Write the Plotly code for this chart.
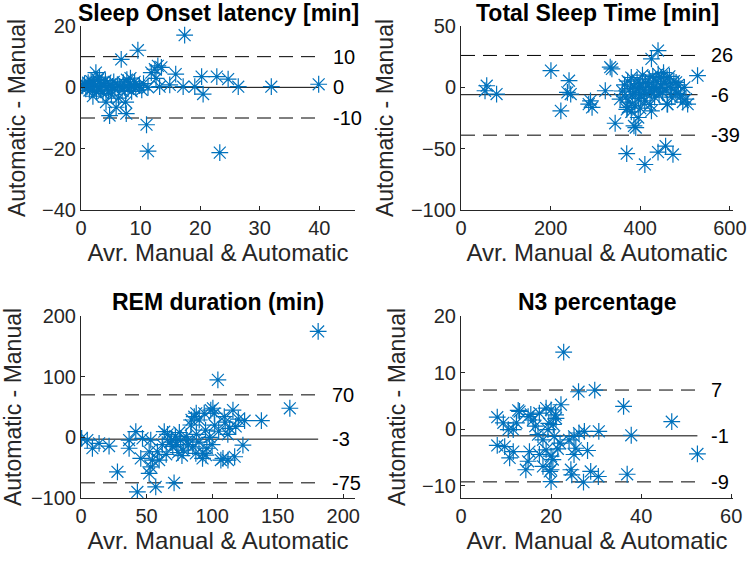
import plotly.graph_objects as go

# ---------------- data ----------------
sol_x = [0.3, 0.6, 0.8, 1.0, 1.2, 1.4, 1.5, 1.7, 1.9, 2.0, 2.1, 2.3, 2.5, 2.6, 2.8, 3.0, 3.1, 3.3, 3.5, 3.7,
         3.9, 4.1, 4.2, 4.4, 4.6, 4.8, 4.9, 5.1, 5.3, 5.5, 5.7, 5.9, 6.1, 6.3, 6.5, 6.75, 6.9, 7.1, 7.3, 7.5,
         7.6, 7.7, 7.9, 8.1, 8.3, 8.5, 8.8, 9.0, 9.2, 9.55, 9.8, 10.2, 10.5, 11.0, 11.25, 11.25, 11.8, 12.4, 12.6, 12.9,
         13.2, 13.5, 14.9, 15.9, 17.15, 17.4, 19.1, 20.25, 20.5, 22.8, 23.3, 24.7, 26.4, 31.95, 39.9]
sol_y = [0.5, 1.2, -0.5, 0.2, 1.5, -1.0, 0.8, 2.0, -0.3, -2.9, 1.0, 0.4, 4.8, -1.5, 2.5, 0.0, 3.3, -0.8, 1.3, -2.0,
         0.6, 2.2, -4.8, 0.0, -1.2, -9.2, 1.0, -2.5, 0.3, 1.8, -0.6, -6.5, 0.8, -3.5, 0.2, 9.1, -1.0, 1.5, 0.0, -4.8,
         -8.6, 2.5, -0.5, 0.9, 3.0, -1.3, 0.4, 1.8, -0.2, 12.1, 0.6, -0.8, 1.2, -12.2, -20.8, 0.0, 4.8, 5.9, 2.9, 7.0,
         0.2, 6.5, 0.8, 4.3, 0.2, 17.0, 0.2, 3.5, -2.2, 3.5, -21.3, 2.7, 0.2, 0.2, 1.0]
sol_stats = [0, 10, -10]          # mean, upper LoA, lower LoA
sol_labels = ["0", "10", "-10"]

tst_x = [57.4, 53.6, 79.4, 200.7, 222.8, 241.1, 237.4, 244.8, 289, 292.5, 285, 322, 333, 336.7, 344, 355, 369.8, 372,
         386, 395.5, 410.3, 425, 425, 439.7, 439.7, 456.6, 473, 460, 527.9, 505.8, 502, 498.5, 480, 482, 390, 461,
         360, 365, 368, 372, 375, 378, 380, 383, 386, 388, 390, 393, 396, 398, 400, 402, 405, 408, 410, 412, 415, 418,
         420, 422, 425, 428, 430, 432, 435, 437, 440, 442, 445, 447, 450, 452, 455, 458, 460, 465, 468, 470, 475, 478,
         485, 490, 495, 370, 380, 400]
tst_y = [1.3, -2.8, -5.5, 13.6, -19.2, 5.4, -4.1, -5.5, -11, -16.4, -13.7, -2.8, 16.4, 15, -29.3, -9.6, -54.1, -16.4,
         -31.5, -24.6, -62.9, -19.2, 23.2, 30, -52.8, -47.9, -54.7, -13.7, 9.5, -13.7, -9.6, 0, 4.1, -5, -32.8, -13.7,
         -3, 2, -8, 5, -12, -1, 8, -6, 1, -15, -4, 6, -9, 0, 3, -7, 10, -2, -11, 4, -5, 1,
         7, -14, -3, 9, 0, -8, 5, -1, 11, -6, 2, 8, -4, 12, 3, -2, 7, 9, 0, -8, 5, -3,
         2, -7, -12, -18, -20, -17]
tst_stats = [-6, 26, -39]
tst_labels = ["-6", "26", "-39"]

rem_x = [0.5, 4.8, 8.7, 13.8, 21.4, 27.8, 36.7, 36.7, 41.8, 46.9, 45.6, 53.2, 52, 54.5, 53.2, 52, 57, 43, 71, 58.3,
         59.6, 63.5, 66, 68, 70, 72, 74, 75, 76, 78, 80.3, 82, 85.3, 83.8, 86.4, 90.2, 94, 99, 101.7, 109.3,
         87.6, 92.7, 95.3, 93, 106.7, 104.4, 159.3, 137.6, 124.8, 123.5, 115.9, 113.4, 117.2, 112.1, 108.3, 180.9, 100.6, 87.9, 84.3, 88,
         90, 95, 98, 102, 105, 110, 112, 118, 120, 96, 100, 65, 62, 77, 73, 69, 81]
rem_y = [-1.7, -4.5, -18, -10, -14.4, -56.8, -18, -4.5, 9.3, -1.7, -34.7, -4.5, -23.8, -37.5, -48.6, -59.5, -81.6, -90, -75, -23.8,
         -37.5, 9.3, 5, -8, -15, 2, -25, 8, -5, -21, 1, -12, -15.5, 20.3, 34, 28.6, 39.7, 45, 39.7, 34,
         -26.4, -34.7, -29.3, -26.4, -37.5, 94.7, 47.9, 27.4, 27.4, -12.7, 45, 14.9, -32, -37.5, -34.7, 174.5, 47.9, 39.7, 28.6, 5,
         -8, 12, 0, 20, 10, 25, 5, 18, 30, -18, -12, -28, -12, -30, -12, -4, -6]
rem_stats = [-3, 70, -75]
rem_labels = ["-3", "70", "-75"]

n3_x = [22.8, 26.1, 29.7, 36.1, 46.8, 52.5, 37.8, 36.9, 30.6, 30.5, 28.8, 27.2, 28.1, 24.4, 24.6, 20.0, 20.0, 14.4, 10.8, 8.05,
        8.05, 12.7, 22.2, 9.7, 11.6, 10.5, 9.4, 12.3, 13, 11.6, 14.9, 16, 17.4, 18.9, 20, 21.1, 17.1, 18.2, 19.3, 20.7,
        17.4, 18.9, 20, 20.4, 15.2, 14.9, 18.2, 19.7, 24, 25.1, 26.2, 27.4, 25.5, 25.1, 21, 19.5, 16.5, 22, 21.5, 20.5, 15.5]
n3_y = [13.6, 6.6, 6.9, 4.0, 1.3, -4.4, -1.1, -8.0, -0.4, -8.4, -7.5, -9.4, -3.8, -7.2, -8.1, -9.3, -7.2, -7.2, -5.1, -2.9,
        2.1, 3.3, 4.3, -3.1, -4, -0.1, 1.1, 1.1, 3.1, -0.1, 2.2, 1.6, 2.8, 3.7, 3.4, 1.9, -1, -1.9, -0.1, -1.3,
        -4.5, -3.7, -4.8, -5.4, -4, -5.7, -6.6, -7.5, -1.9, -1.3, -0.7, -0.4, -3.4, -4.5, 2.5, 1.0, 0.5, -2.5, -3.5, 0.8, 2.6]
n3_stats = [-1.2, 6.9, -9.35]
n3_labels = ["-1", "7", "-9"]

titles = ["Sleep Onset latency [min]", "Total Sleep Time [min]", "REM duration (min)", "N3 percentage"]
xranges = [[0, 46], [0, 607], [0, 209], [0, 60.4]]
yranges = [[-40, 20], [-100, 50], [-100, 200], [-12.2, 20]]
xticks = [[0, 10, 20, 30, 40], [0, 200, 400, 600], [0, 50, 100, 150, 200], [0, 20, 40, 60]]
yticks = [[-40, -20, 0, 20], [-100, -50, 0, 50], [-100, 0, 100, 200], [-10, 0, 10, 20]]
xlabel = "Avr. Manual & Automatic"
ylabel = "Automatic - Manual"

# ---------------- layout ----------------
W, H = 750, 562
xdom = [[81 / W, 355 / W], [461 / W, 733 / W]]
ydom = [[1 - 210 / H, 1 - 26 / H], [1 - 498 / H, 1 - 316 / H]]
title_y = [1 - 13 / H, 1 - 302 / H]

BLUE = "#0072BD"
AX = "#262626"
FONT = "Liberation Sans"

panels = [(sol_x, sol_y, sol_stats, sol_labels), (tst_x, tst_y, tst_stats, tst_labels),
          (rem_x, rem_y, rem_stats, rem_labels), (n3_x, n3_y, n3_stats, n3_labels)]

fig = go.Figure()
annotations = []
layout = dict(width=W, height=H, margin=dict(l=0, r=0, t=0, b=0),
              paper_bgcolor="white", plot_bgcolor="white", showlegend=False,
              font=dict(family=FONT, color=AX))

for i, (xs, ys, stats, labels) in enumerate(panels):
    n = i + 1
    sfx = "" if n == 1 else str(n)
    xa, ya = "x" + sfx, "y" + sfx
    col, row = i % 2, i // 2
    xmax = max(xs)
    # reference lines
    for k, v in enumerate(stats):
        fig.add_trace(go.Scatter(x=[0, xmax], y=[v, v], mode="lines", xaxis=xa, yaxis=ya,
                                 line=dict(color="black", width=1, dash="solid" if k == 0 else "14px,8px"),
                                 hoverinfo="skip"))
        annotations.append(dict(x=xmax * 1.05, y=v, xref=xa, yref=ya, text=labels[k], showarrow=False,
                                xanchor="left", yanchor="middle", font=dict(size=20, color="black", family=FONT)))
    fig.add_trace(go.Scatter(x=xs, y=ys, mode="markers", xaxis=xa, yaxis=ya,
                             marker=dict(symbol="asterisk-open", size=14, color=BLUE,
                                         line=dict(color=BLUE, width=1.2))))
    axis_common = dict(showline=True, linecolor=AX, linewidth=1, ticks="inside", ticklen=4, tickcolor=AX,
                       showgrid=False, zeroline=False, tickfont=dict(size=20, family=FONT, color=AX),
                       mirror=False, automargin=False)
    layout["xaxis" + sfx] = dict(axis_common, domain=xdom[col], range=xranges[i], tickvals=xticks[i],
                                  anchor=ya, title=dict(text=xlabel, font=dict(size=24, family=FONT, color=AX), standoff=2))
    layout["yaxis" + sfx] = dict(axis_common, domain=ydom[row], range=yranges[i], tickvals=yticks[i],
                                  anchor=xa, title=dict(text=ylabel, font=dict(size=23, family=FONT, color=AX), standoff=10))
    annotations.append(dict(x=(xdom[col][0] + xdom[col][1]) / 2, y=title_y[row], xref="paper", yref="paper",
                            text="<b>" + titles[i] + "</b>", showarrow=False, xanchor="center",
                            yanchor="middle", font=dict(size=23, color="black", family=FONT)))

layout["annotations"] = annotations
fig.update_layout(**layout)
fig.write_html("out.html", config={"displayModeBar": False},
               post_script="document.body.style.margin='0';document.body.style.overflow='hidden';")
